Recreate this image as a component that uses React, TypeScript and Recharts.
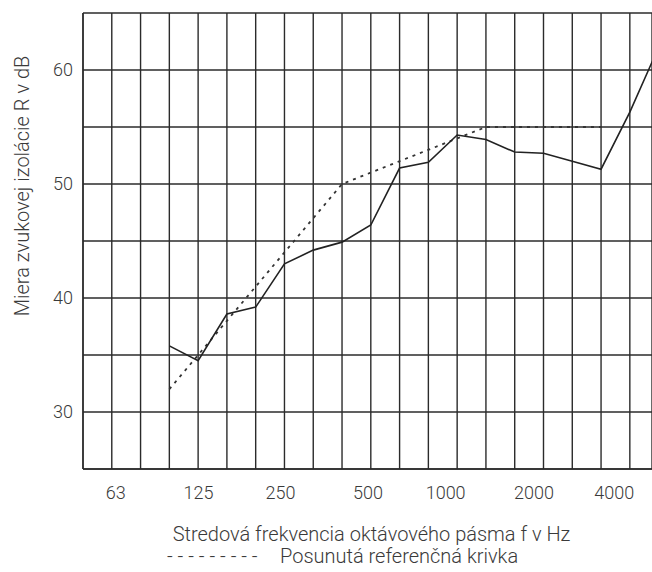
import React from "react";
import { CartesianGrid, Label, Line, LineChart, XAxis, YAxis } from "recharts";

// third-octave band centre frequencies (Hz)
const bands = [
  "50", "63", "80", "100", "125", "160", "200", "250", "315", "400", "500",
  "630", "800", "1000", "1250", "1600", "2000", "2500", "3150", "4000", "5000",
];

// measured sound reduction index R (dB)
const measured = [
  null, null, null, 35.8, 34.5, 38.6, 39.2, 43.0, 44.2, 44.9, 46.4,
  51.4, 51.9, 54.3, 53.9, 52.8, 52.7, 52.0, 51.3, 56.3, 62.0,
];

// shifted reference curve (dB)
const reference = [
  null, null, null, 32, 35, 38, 41, 44, 47, 50, 51,
  52, 53, 54, 55, 55, 55, 55, 55, null, null,
];

// tick labels as printed under the grid (band position)
const tickLabels = ["63", "125", "250", "500", "1000", "2000", "4000"];
const tickPositions = [1.14, 4.01, 6.86, 9.9, 12.6, 15.67, 18.46];

const yTicks = [25, 30, 35, 40, 45, 50, 55, 60, 65];

const data = bands.map((band, i) => ({
  idx: i,
  band,
  measured: measured[i],
  reference: reference[i],
}));

const bandTicks = bands.map((_, i) => i).filter((i) => i < 20);
const xDomain: [number, number] = [0, 19.77];

const ink = "#2b2b2b";
const textColor = "#3a3a3a";

const XTitle = (props: any) => {
  const { x, y, width } = props.viewBox;
  return (
    <g fill={textColor} fontSize={20}>
      <text x={x + width / 2 + 4} y={y + 72} textAnchor="middle">
        Stredová frekvencia oktávového pásma f v Hz
      </text>
      <text x={x + 84} y={y + 94}>
        - - - - - - - - -
      </text>
      <text x={x + 197} y={y + 94}>
        Posunutá referenčná krivka
      </text>
    </g>
  );
};

const YTitle = (props: any) => {
  const { y } = props.viewBox;
  const cx = 22;
  const cy = y + 173;
  return (
    <text
      x={cx}
      y={cy}
      fill={textColor}
      fontSize={20}
      textAnchor="middle"
      dominantBaseline="central"
      transform={`rotate(-90, ${cx}, ${cy})`}
    >
      Miera zvukovej izolácie R v dB
    </text>
  );
};

export default function App() {
  return (
    <div
      style={{
        position: "absolute",
        left: 0,
        top: 0,
        fontFamily: "Roboto, sans-serif",
        fontWeight: 300,
        background: "#fff",
      }}
    >
      <LineChart
        width={652}
        height={572}
        data={data}
        margin={{ top: 13, right: 0, bottom: 0, left: 0 }}
      >
        <CartesianGrid xAxisId="bands" stroke={ink} strokeWidth={1.4} />
        <XAxis
          xAxisId="bands"
          dataKey="idx"
          type="number"
          domain={xDomain}
          ticks={bandTicks}
          interval={0}
          allowDataOverflow
          height={0}
          hide
        />
        <XAxis
          xAxisId="labels"
          dataKey="idx"
          type="number"
          domain={xDomain}
          ticks={tickPositions}
          interval={0}
          allowDataOverflow
          height={103}
          tickLine={false}
          tickSize={0}
          tickMargin={17}
          axisLine={{ stroke: ink, strokeWidth: 1.4 }}
          tick={{ fill: textColor, fontSize: 18 }}
          tickFormatter={(v: number) => tickLabels[tickPositions.indexOf(v)] ?? ""}
        >
          <Label content={XTitle} />
        </XAxis>
        <YAxis
          domain={[25, 65]}
          ticks={yTicks}
          interval={0}
          allowDataOverflow
          width={83}
          tickLine={false}
          tickSize={0}
          tickMargin={10}
          axisLine={{ stroke: ink, strokeWidth: 1.4 }}
          tick={{ fill: textColor, fontSize: 18 }}
          tickFormatter={(v: number) => (v % 10 === 0 && v < 65 ? String(v) : "")}
        >
          <Label content={YTitle} />
        </YAxis>
        <Line
          xAxisId="bands"
          dataKey="reference"
          stroke="#333"
          strokeWidth={1.8}
          strokeDasharray="3 5"
          dot={false}
          isAnimationActive={false}
        />
        <Line
          xAxisId="bands"
          dataKey="measured"
          stroke="#222"
          strokeWidth={1.6}
          dot={false}
          isAnimationActive={false}
        />
      </LineChart>
    </div>
  );
}
